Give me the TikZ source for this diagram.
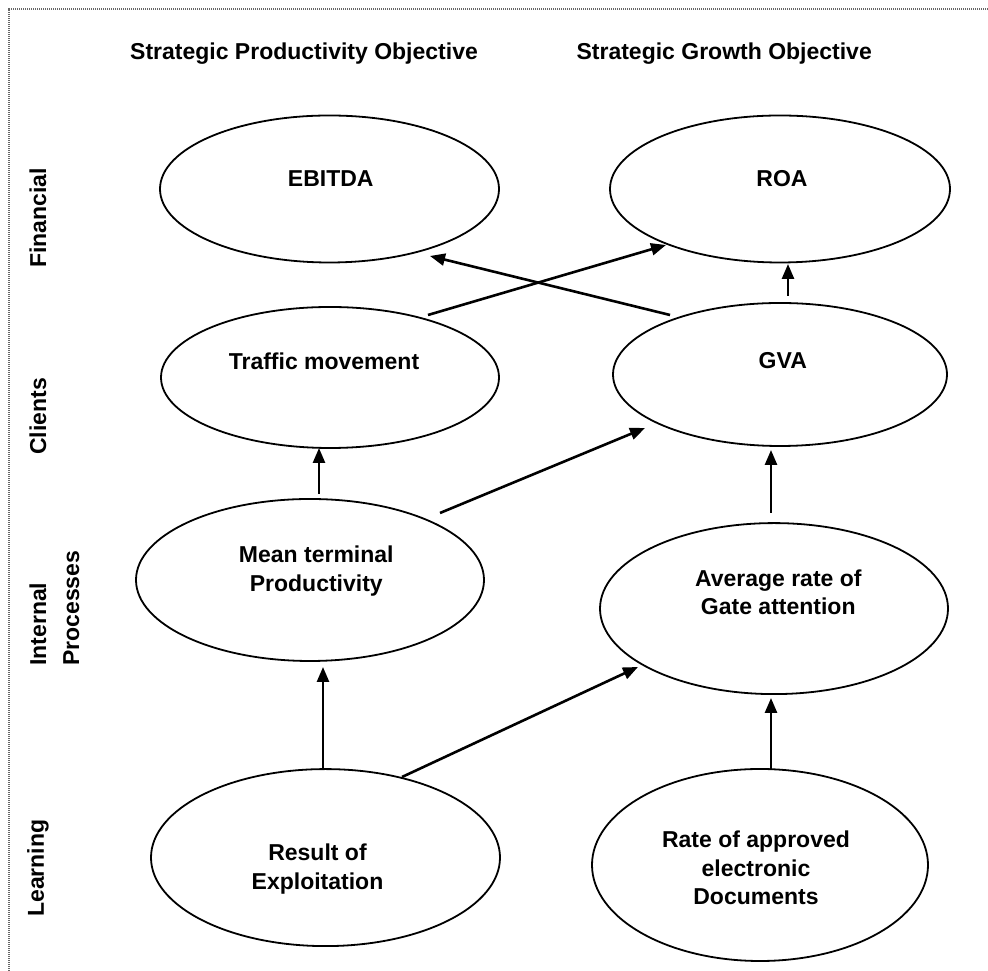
\documentclass[tikz,border=0pt]{standalone}
\usepackage{fontspec}
\setmainfont{Liberation Sans}
\usetikzlibrary{shapes.geometric,arrows.meta,calc}
\begin{document}
\begin{tikzpicture}[x=1pt,y=1pt,
  oval/.style={ellipse, draw, line width=1.8pt, inner sep=0pt},
  txt/.style={font=\bfseries\fontsize{23}{28.5}\selectfont, align=center, inner sep=0pt},
  side/.style={font=\bfseries\fontsize{23}{33}\selectfont, rotate=90, anchor=west, align=left, inner sep=0pt},
  link/.style={line width=2.6pt, -{Triangle[length=15pt,width=12pt]}},
  frame/.style={line width=1.3pt, draw=black!60, dash pattern=on 1.3pt off 0.7pt}
]
\useasboundingbox (0,0) rectangle (988,971);
% frame
\coordinate (fTL) at (9,962);
\coordinate (fTR) at (988,962);
\coordinate (fBL) at (9,0);
\draw[frame] (fTR) -- (fTL) -- (fBL);

% headers
\node[txt, anchor=base west] (h1) at (130,911.5) {Strategic Productivity Objective};
\node[txt, anchor=base east] (h2) at (872,911.5) {Strategic Growth Objective};

% side labels
\node[side] (sFin) at (38,703) {Financial};
\node[side] (sCli) at (38,516) {Clients};
\node[side] (sInt) at (54.5,305) {Internal\\Processes};
\node[side] (sLea) at (38,54) {Learning};

% ellipses
\node[oval, minimum width=339pt, minimum height=147pt] (ebitda) at (329.5,782) {};
\node[oval, minimum width=340pt, minimum height=147pt] (roa) at (780,782) {};
\node[oval, minimum width=338pt, minimum height=141pt] (traffic) at (330,593.5) {};
\node[oval, minimum width=334pt, minimum height=143pt] (gva) at (780,596.5) {};
\node[oval, minimum width=348pt, minimum height=162pt] (mean) at (310,391) {};
\node[oval, minimum width=348pt, minimum height=171pt] (avg) at (774,362.4) {};
\node[oval, minimum width=349pt, minimum height=177pt] (result) at (325.5,113.4) {};
\node[oval, minimum width=336pt, minimum height=192pt] (rate) at (760,106) {};

% texts
\node[txt] (ebitdaT) at (330.8,792) {EBITDA};
\node[txt] (roaT) at (782,792) {ROA};
\node[txt] (trafficT) at (324,610) {Traffic movement};
\node[txt] (gvaT) at (782.8,610) {GVA};
\node[txt] (meanT) at (316.3,400) {Mean terminal\\Productivity};
\node[txt] (avgT) at (778.3,378.5) {Average rate of\\Gate attention};
\node[txt] (resultT) at (317.5,102) {Result of\\Exploitation};
\node[txt] (rateT) at (756,103) {Rate of approved\\electronic\\Documents};

% connectors
\draw[link] ($(gva)+(-110,59.5)$) -- ($(ebitda)+(100.5,-67)$);
\draw[link] ($(traffic)+(98,62.5)$) -- ($(roa)+(-114,-56)$);
\draw[link] ($(gva)+(8,78.5)$) -- ($(roa)+(8,-75)$);
\draw[link] ($(mean)+(9,86)$) -- ($(traffic)+(-11,-70.5)$);
\draw[link] ($(mean)+(130,67)$) -- ($(gva)+(-135,-53.5)$);
\draw[link] ($(avg)+(-3,95.6)$) -- ($(gva)+(-9,-75.5)$);
\draw[link] ($(result)+(-2.5,88.6)$) -- ($(mean)+(13,-87)$);
\draw[link] ($(result)+(76.5,80.6)$) -- ($(avg)+(-136,-58.4)$);
\draw[link] ($(rate)+(11,96)$) -- ($(avg)+(-3,-89.4)$);
\end{tikzpicture}
\end{document}
